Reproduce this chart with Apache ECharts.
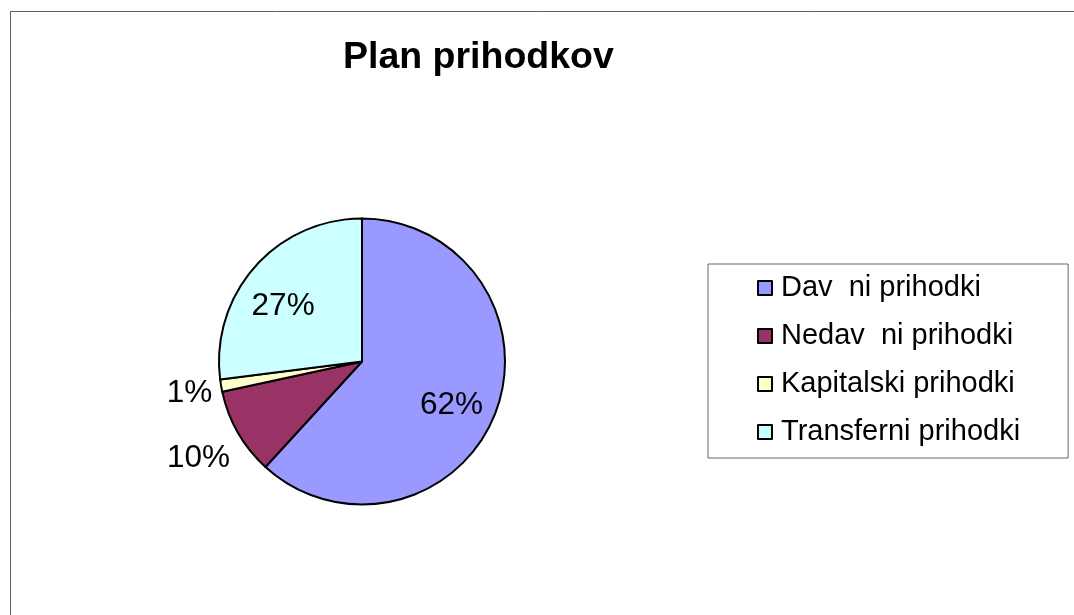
<!DOCTYPE html>
<html>
<head>
<meta charset="utf-8">
<script src="https://cdn.jsdelivr.net/npm/echarts@6/dist/echarts.min.js"></script>
<style>
  html, body { margin: 0; padding: 0; background: #fff; }
  #chart { width: 1074px; height: 615px; }
</style>
</head>
<body>
<div id="chart"></div>
<script>
// slice names (legend) and shares in percent
const categories = ['Dav  ni prihodki', 'Nedav  ni prihodki', 'Kapitalski prihodki', 'Transferni prihodki'];
const shares = [61.8, 9.8, 1.4, 27.0];
const colors = ['#9999FF', '#993366', '#FFFFCC', '#CCFFFF'];

// nudge labels from the default inside spot to where Excel put them
const labelShift = [[20, 17], [-99, 60], [-99, 19], [-23, -6]];

const chart = echarts.init(document.getElementById('chart'));

const option = {
    animation: false,
    backgroundColor: '#fff',
    textStyle: { fontFamily: 'Arial, "Liberation Sans", sans-serif' },
    title: {
        text: 'Plan prihodkov',
        left: 343,
        top: 39,
        padding: 0,
        textStyle: { fontSize: 37.5, fontWeight: 'bold', color: '#000' }
    },
    // outer chart frame (only top/left edge fits in the window)
    graphic: [{
        type: 'rect',
        left: 8,
        top: 9,
        shape: { width: 1200, height: 800 },
        style: { fill: 'none', stroke: '#5f5f5f', lineWidth: 1 },
        silent: true
    }],
    legend: {
        orient: 'vertical',
        left: 708,
        top: 264,
        padding: [9, 48, 11, 49],
        borderColor: '#666',
        borderWidth: 1,
        icon: 'rect',
        itemWidth: 14,
        itemHeight: 14,
        itemGap: 18,
        itemStyle: { borderColor: '#000', borderWidth: 2 },
        textStyle: { fontSize: 29, color: '#000', lineHeight: 30, padding: [0, 0, 0, 4] },
        data: categories
    },
    series: [{
        type: 'pie',
        center: [362, 361.5],
        radius: 143,
        startAngle: 90,
        clockwise: true,
        avoidLabelOverlap: false,
        emphasis: { disabled: true },
        itemStyle: { borderColor: '#000', borderWidth: 2 },
        label: {
            show: true,
            position: 'inside',
            fontSize: 31.5,
            color: '#000',
            formatter: p => Math.round(p.percent) + '%'
        },
        labelLine: { show: false },
        labelLayout: params => {
            const s = labelShift[params.dataIndex];
            return { dx: s[0], dy: s[1] };
        },
        data: categories.map((name, i) => ({
            name: name,
            value: shares[i],
            itemStyle: { color: colors[i] }
        }))
    }]
};

chart.setOption(option);
</script>
</body>
</html>
